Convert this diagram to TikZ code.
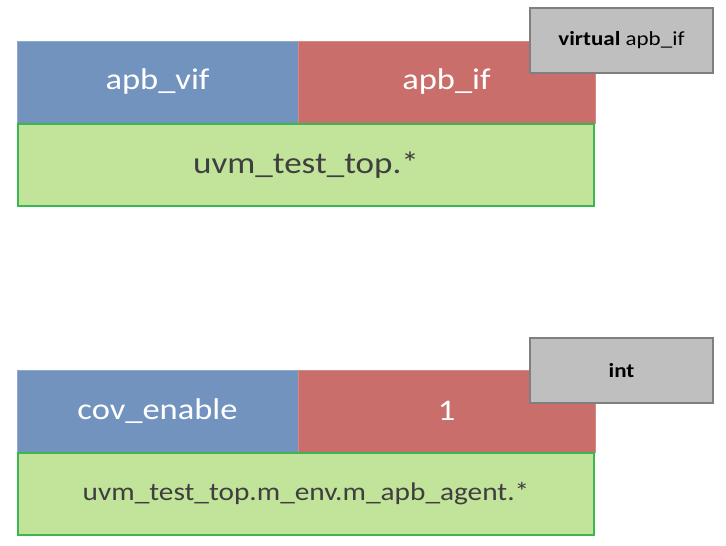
\documentclass[tikz,border=0pt]{standalone}
\usepackage{fontspec}
\setmainfont{Carlito}[FakeStretch=1.15]
\definecolor{cblue}{HTML}{7393BF}
\definecolor{cred}{HTML}{C96E6A}
\definecolor{cgreen}{HTML}{C2E39A}
\definecolor{cgreenb}{HTML}{3DB551}
\definecolor{cgray}{HTML}{BFBFBF}
\definecolor{cgrayb}{HTML}{7F7F7F}
\definecolor{ctext}{HTML}{3F3F3F}
\begin{document}
\begin{tikzpicture}[x=1pt,y=-1pt,
  cell/.style={rectangle, anchor=north west, inner sep=0pt, outer sep=0pt},
  keycell/.style={cell, fill=cblue, draw=cblue!80!white, line width=0.6pt, minimum width=281pt, minimum height=82pt, text=white, font=\fontsize{30}{34}\selectfont},
  valcell/.style={cell, fill=cred, draw=cred!80!white, line width=0.6pt, minimum width=297pt, minimum height=82pt, text=white, font=\fontsize{30}{34}\selectfont},
  scopecell/.style={cell, fill=cgreen, draw=cgreenb, line width=1.6pt, minimum width=576pt, minimum height=82pt, text=ctext},
  typecell/.style={cell, fill=cgray, draw=cgrayb, line width=1.2pt, minimum width=183pt, minimum height=65pt, text=black, font=\fontsize{20}{24}\selectfont}]
\useasboundingbox (0,0) rectangle (726,546);
% top entry
\node[keycell] (k1) at (17,41) {apb\_vif};
\node[valcell] (v1) at (298,41) {apb\_if};
\node[scopecell, font=\fontsize{30.5}{34}\selectfont] (s1) at (18,124) {uvm\_test\_top.*};
\node[typecell] (t1) at (530,8) {\textbf{virtual} apb\_if};
% bottom entry
\node[keycell] (k2) at (17,370) {cov\_enable};
\node[valcell] (v2) at (298,370) {1};
\node[scopecell, font=\fontsize{25.5}{30}\selectfont] (s2) at (18,453) {uvm\_test\_top.m\_env.m\_apb\_agent.*};
\node[typecell] (t2) at (530,338) {\textbf{int}};
\end{tikzpicture}
\end{document}
